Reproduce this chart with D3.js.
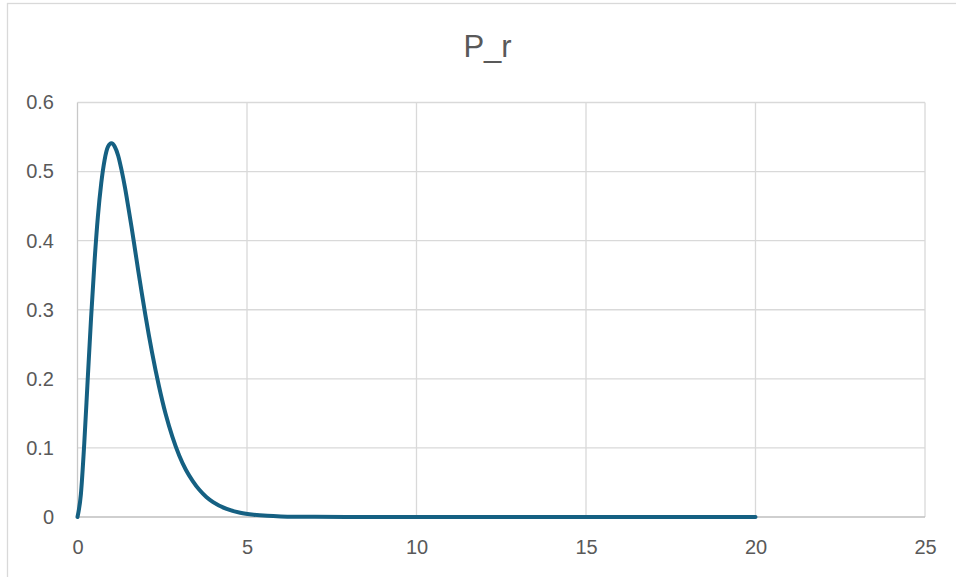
<!DOCTYPE html>
<html>
<head>
<meta charset="utf-8">
<script src="https://cdn.jsdelivr.net/npm/d3@7/dist/d3.min.js"></script>
<style>
  html, body { margin: 0; padding: 0; background: #fff; }
  svg { display: block; }
  text { font-family: "Liberation Sans", Arial, sans-serif; fill: #595959; }
</style>
</head>
<body>
<svg id="chart" width="956" height="577"></svg>
<script>
const title = "P_r";
const rValues = [0, 0.1, 0.2, 0.3, 0.4, 0.5, 0.6, 0.7, 0.8, 0.9, 1.0, 1.1, 1.2, 1.3, 1.4, 1.5, 1.6, 1.7, 1.8, 1.9, 2.0,
  2.2, 2.4, 2.6, 2.8, 3.0, 3.2, 3.4, 3.6, 3.8, 4.0, 4.4, 4.8, 5.2, 5.6, 6.0, 7.0, 8.0, 10, 12, 14, 16, 18, 20];
const pValues = [0, 0.033, 0.107, 0.198, 0.288, 0.368, 0.434, 0.483, 0.517, 0.536, 0.541, 0.536, 0.523, 0.502, 0.477, 0.448, 0.418, 0.386, 0.354, 0.323, 0.293,
  0.238, 0.190, 0.149, 0.116, 0.089, 0.068, 0.052, 0.039, 0.029, 0.0215, 0.0117, 0.0062, 0.0033, 0.0017, 0.0009, 0.0002, 0.00003, 0, 0, 0, 0, 0, 0];
const xTicks = [0, 5, 10, 15, 20, 25];
const yTicks = [0, 0.1, 0.2, 0.3, 0.4, 0.5, 0.6];

const svg = d3.select("#chart");
const W = 956, H = 577;

// outer chart border
svg.append("rect")
  .attr("x", 7.5).attr("y", 3.5)
  .attr("width", 1000).attr("height", 1000)
  .attr("fill", "#fff").attr("stroke", "#d9d9d9").attr("stroke-width", 1.3);

const x = d3.scaleLinear().domain([0, 25]).range([77.5, 925]);
const y = d3.scaleLinear().domain([0, 0.6]).range([517, 102.5]);

// gridlines
const grid = svg.append("g");
grid.selectAll("line.h").data(yTicks.filter(d => d > 0)).join("line")
  .attr("x1", x(0)).attr("x2", x(25))
  .attr("y1", d => y(d)).attr("y2", d => y(d))
  .attr("stroke", "#d9d9d9").attr("stroke-width", 1.3);
grid.selectAll("line.v").data(xTicks).join("line")
  .attr("x1", d => x(d)).attr("x2", d => x(d))
  .attr("y1", y(0)).attr("y2", y(0.6))
  .attr("stroke", d => d === 0 ? "#c8c8c8" : "#d9d9d9").attr("stroke-width", 1.3);
// x axis line
svg.append("line")
  .attr("x1", x(0)).attr("x2", x(25))
  .attr("y1", y(0)).attr("y2", y(0))
  .attr("stroke", "#bfbfbf").attr("stroke-width", 1.5);

// axes labels via d3 axes
const yAxis = d3.axisLeft(y).tickValues(yTicks).tickSize(0).tickPadding(0)
  .tickFormat(d => d === 0 ? "0" : d3.format(".1f")(d));
const gy = svg.append("g").attr("transform", "translate(54,0)").call(yAxis);
gy.select(".domain").remove();
gy.selectAll("text").attr("font-size", 20).attr("fill", "#595959")
  .style("font-family", "'Liberation Sans', Arial, sans-serif");

const xAxis = d3.axisBottom(x).tickValues(xTicks).tickSize(0).tickPadding(0).tickFormat(d3.format("d"));
const gx = svg.append("g").attr("transform", "translate(0,540)").call(xAxis);
gx.select(".domain").remove();
gx.selectAll("text").attr("font-size", 20).attr("fill", "#595959").attr("dy", "0.71em")
  .style("font-family", "'Liberation Sans', Arial, sans-serif");

// line
const data = rValues.map((r, i) => ({ r, p: pValues[i] }));
const line = d3.line().x(d => x(d.r)).y(d => y(d.p)).curve(d3.curveMonotoneX);
svg.append("path").datum(data)
  .attr("d", line)
  .attr("fill", "none")
  .attr("stroke", "#156082")
  .attr("stroke-width", 4)
  .attr("stroke-linejoin", "round")
  .attr("stroke-linecap", "round");

// title
svg.append("text")
  .attr("x", 487.5).attr("y", 57)
  .attr("text-anchor", "middle")
  .attr("font-size", 31)
  .text(title);
</script>
</body>
</html>
